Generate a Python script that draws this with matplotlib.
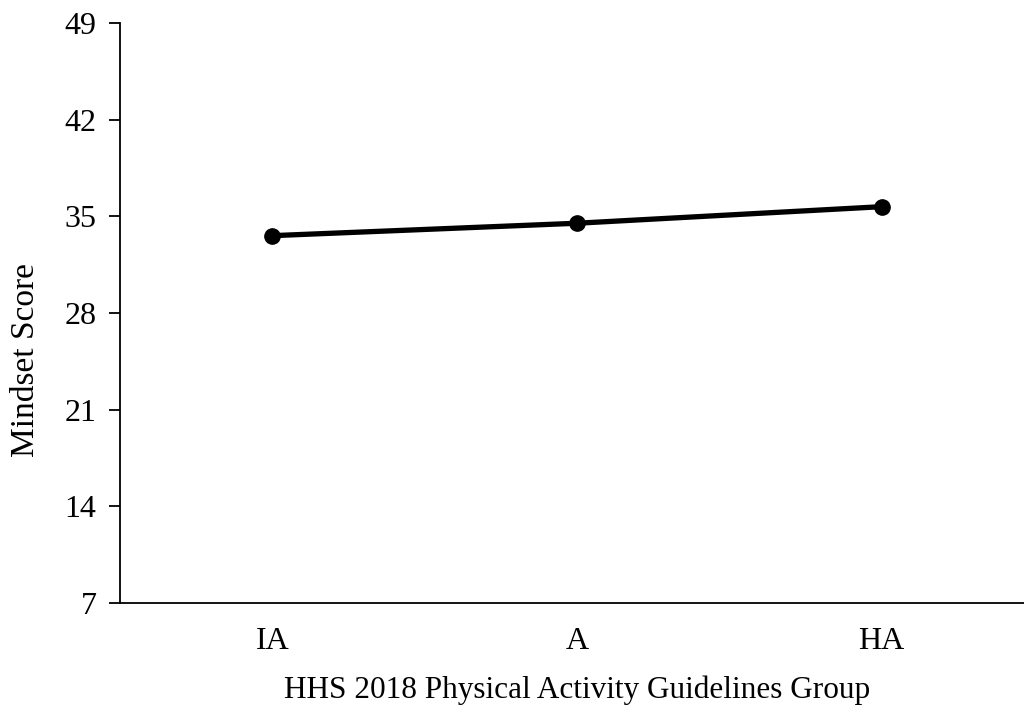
import matplotlib
matplotlib.use('Agg')
import matplotlib.pyplot as plt

groups = ['IA', 'A', 'HA']
mindset = [33.6, 34.5, 35.7]
yticks = [7, 14, 21, 28, 35, 42, 49]

plt.rcParams['font.family'] = 'Liberation Serif'

fig = plt.figure(figsize=(10.24, 7.06), dpi=100)
# axes runs slightly past the right edge, like the original
ax = fig.add_axes([120 / 1024, 1 - 603 / 706, 914 / 1024, 580 / 706])

x = list(range(len(groups)))
ax.plot(x, mindset, color='black', linewidth=3.8, marker='o', markersize=11)

ax.set_xlim(-0.5, 2.5)
ax.set_ylim(7, 49)
ax.set_yticks(yticks)
ax.set_xticks(x)
ax.set_xticklabels(groups)

ax.spines['top'].set_visible(False)
ax.spines['right'].set_visible(False)
ax.spines['left'].set_linewidth(1.3)
ax.spines['bottom'].set_linewidth(1.3)
ax.tick_params(axis='y', direction='out', length=8, width=1.3, labelsize=23, pad=9)
ax.tick_params(axis='x', length=0, labelsize=23, pad=17)

ax.set_xlabel('HHS 2018 Physical Activity Guidelines Group', fontsize=22.5, labelpad=14)
ax.set_ylabel('Mindset Score', fontsize=24)
ax.yaxis.set_label_coords(-0.086, 0.419)

fig.savefig('out.png', dpi=100)
